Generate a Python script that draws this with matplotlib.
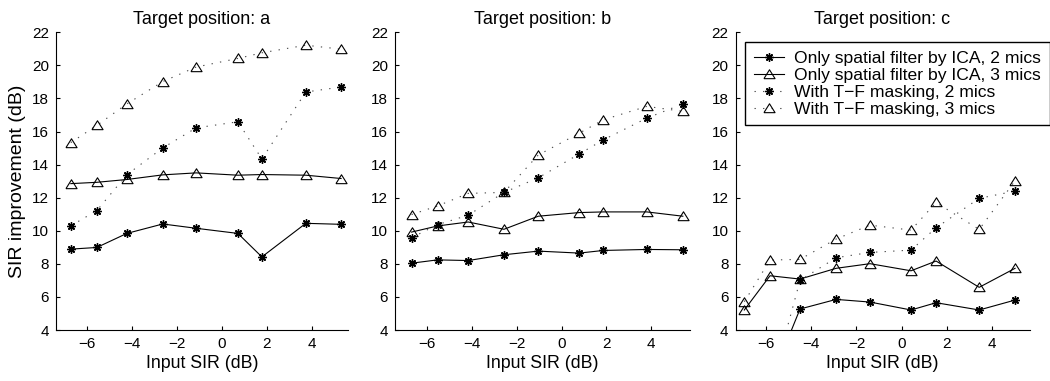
import numpy as np
import matplotlib
matplotlib.use('Agg')
import matplotlib.pyplot as plt
from matplotlib.lines import Line2D

plt.rcParams['font.family'] = ['Liberation Sans', 'DejaVu Sans']

########## DATOS ##########

titles = ['Target position: a', 'Target position: b', 'Target position: c']
labels = ['Only spatial filter by ICA, 2 mics', 'Only spatial filter by ICA, 3 mics',
          'With T\u2212F masking, 2 mics', 'With T\u2212F masking, 3 mics']

# posicion a
xa = [-6.74, -5.58, -4.24, -2.64, -1.15, 0.71, 1.78, 3.74, 5.31]
ica2_a = [8.89, 8.99, 9.84, 10.41, 10.15, 9.84, 8.42, 10.45, 10.39]
ica3_a = [12.85, 12.93, 13.10, 13.38, 13.50, 13.36, 13.40, 13.36, 13.16]
tf2_a = [10.30, 11.22, 13.39, 15.01, 16.22, 16.59, 14.34, 18.39, 18.69]
tf3_a = [15.33, 16.37, 17.67, 19.02, 19.90, 20.42, 20.76, 21.22, 20.98]

# posicion b
xb = [-6.70, -5.54, -4.17, -2.57, -1.04, 0.79, 1.87, 3.81, 5.42]
ica2_b = [8.04, 8.24, 8.20, 8.55, 8.77, 8.65, 8.81, 8.87, 8.85]
ica3_b = [9.92, 10.29, 10.53, 10.09, 10.88, 11.10, 11.14, 11.14, 10.88]
tf2_b = [9.58, 10.37, 10.94, 12.32, 13.20, 14.64, 15.50, 16.81, 17.67]
tf3_b = [10.98, 11.50, 12.26, 12.32, 14.58, 15.90, 16.71, 17.52, 17.22]

# posicion c (los dos primeros puntos de 2 mics quedan bajo el eje)
xc = [-6.97, -5.83, -4.50, -2.90, -1.40, 0.42, 1.53, 3.44, 5.03]
ica2_c = [0.5, 0.8, 5.27, 5.85, 5.69, 5.21, 5.65, 5.21, 5.81]
ica3_c = [5.21, 7.28, 7.08, 7.73, 8.01, 7.58, 8.17, 6.58, 7.73]
tf2_c = [0.3, 0.3, 7.00, 8.37, 8.69, 8.83, 10.18, 11.96, 12.40]
tf3_c = [5.71, 8.23, 8.27, 9.50, 10.34, 10.04, 11.71, 10.08, 13.02]

xlims = [(-7.40, 5.62), (-7.44, 5.74), (-7.36, 5.67)]

########## ESTILOS ##########

# asterisco de 8 brazos y triangulo abierto tipo matlab
star = (8, 2, 0)
tri = [(-1.0, -0.75), (1.0, -0.75), (0.0, 0.85), (-1.0, -0.75)]
dots = (0, (1.2, 6.5))

styles = [
    dict(ls='-', marker=star, ms=6, color='k', lw=0.8, mew=1.0),
    dict(ls='-', marker=tri, ms=8, color='k', lw=0.8, mew=0.8, mfc='none'),
    dict(ls=dots, marker=star, ms=6, color='0.3', mec='k', lw=0.8, mew=1.0),
    dict(ls=dots, marker=tri, ms=8, color='0.3', mec='k', lw=0.8, mew=0.8, mfc='none'),
]

########## GRAFICA ##########

fig = plt.figure(figsize=(10.5, 3.81), dpi=100)
lefts = [56, 395, 735.5]
widths = [292, 295, 294]

panels = [(xa, [ica2_a, ica3_a, tf2_a, tf3_a]),
          (xb, [ica2_b, ica3_b, tf2_b, tf3_b]),
          (xc, [ica2_c, ica3_c, tf2_c, tf3_c])]

for i, (x, series) in enumerate(panels):
    ax = fig.add_axes([lefts[i] / 1050, 51 / 381, widths[i] / 1050, 297.7 / 381])
    for y, st in zip(series, styles):
        ax.plot(x, y, **st)
    ax.set_xlim(*xlims[i])
    ax.set_ylim(4, 22)
    ax.set_xticks(np.arange(-6, 5, 2))
    ax.set_yticks(np.arange(4, 23, 2))
    ax.spines['top'].set_visible(False)
    ax.spines['right'].set_visible(False)
    for s in ['left', 'bottom']:
        ax.spines[s].set_linewidth(0.8)
    ax.tick_params(direction='in', length=3, width=0.8, labelsize=11, pad=5)
    ax.set_title(titles[i], fontsize=13, pad=6)
    ax.set_xlabel('Input SIR (dB)', fontsize=12.8, labelpad=3)
    if i == 0:
        ax.set_ylabel('SIR improvement (dB)', fontsize=14, labelpad=4)

# leyenda en el tercer panel
handles = [Line2D([], [], **st) for st in styles]
leg = fig.legend(handles, labels, loc='upper left',
                 bbox_to_anchor=(745 / 1050, 1 - 41.7 / 381),
                 fontsize=12.6, frameon=True, fancybox=False, framealpha=1,
                 handlelength=1.7, handletextpad=0.6, labelspacing=0.1,
                 borderpad=0.5, borderaxespad=0)
leg.get_frame().set_edgecolor('k')
leg.get_frame().set_linewidth(1.0)

fig.savefig('out.png', dpi=100)
